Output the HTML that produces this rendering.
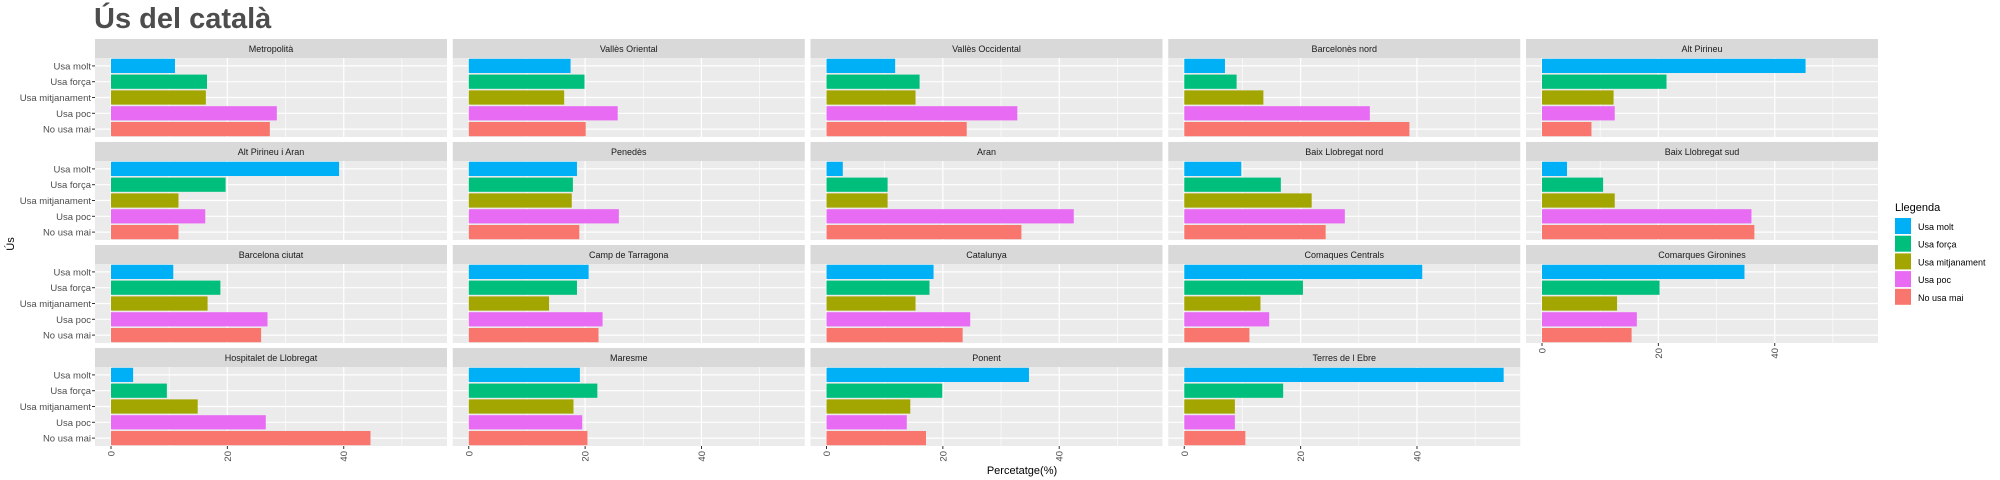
<!DOCTYPE html>
<html><head><meta charset="utf-8"><style>
html,body{margin:0;padding:0;background:#fff;}
svg{display:block;font-family:"Liberation Sans",Arial,sans-serif;}
</style></head><body>
<svg id="chart" width="2000" height="480" viewBox="0 0 2000 480" xmlns="http://www.w3.org/2000/svg">
<text x="94" y="28" font-size="29" font-weight="bold" fill="#4d4d4d">Ús del català</text>
<text transform="translate(14,244) rotate(-90)" text-anchor="middle" font-size="11" fill="#000">Ús</text>
<text x="1022" y="474" text-anchor="middle" font-size="11" fill="#000">Percetatge(%)</text>
<g id="panels"></g>
<g id="legend"></g>
</svg>
<script>
const categories = ["Usa molt","Usa força","Usa mitjanament","Usa poc","No usa mai"];
const colors = ["#00B0F6","#00BF7D","#A3A500","#E76BF3","#F8766D"];
const regions = ["Metropolità","Vallès Oriental","Vallès Occidental","Barcelonès nord","Alt Pirineu",
"Alt Pirineu i Aran","Penedès","Aran","Baix Llobregat nord","Baix Llobregat sud",
"Barcelona ciutat","Camp de Tarragona","Catalunya","Comaques Centrals","Comarques Gironines",
"Hospitalet de Llobregat","Maresme","Ponent","Terres de l Ebre"];
const usaMolt = [11.0,17.5,11.8,7.0,45.3, 39.2,18.6,2.8,9.8,4.3, 10.7,20.6,18.4,40.9,34.8, 3.8,19.1,34.8,54.9];
const usaForca = [16.5,19.9,16.0,9.0,21.4, 19.7,17.9,10.5,16.6,10.5, 18.8,18.6,17.7,20.4,20.2, 9.6,22.1,19.9,17.0];
const usaMitj = [16.3,16.4,15.3,13.6,12.3, 11.6,17.7,10.5,21.9,12.5, 16.6,13.8,15.3,13.1,12.9, 14.9,18.0,14.4,8.7];
const usaPoc = [28.5,25.6,32.8,31.9,12.5, 16.2,25.8,42.5,27.6,36.0, 26.9,23.0,24.7,14.6,16.3, 26.6,19.5,13.8,8.7];
const noUsaMai = [27.3,20.1,24.1,38.7,8.5, 11.6,19.0,33.5,24.3,36.5, 25.8,22.3,23.4,11.2,15.4, 44.6,20.4,17.1,10.5];
const xTicks = [0,20,40];
const xMinor = [10,30,50];
const series = [usaMolt,usaForca,usaMitj,usaPoc,noUsaMai];

const NS="http://www.w3.org/2000/svg";
function mk(tag,attrs,parent){const e=document.createElementNS(NS,tag);for(const k in attrs)e.setAttribute(k,attrs[k]);parent.appendChild(e);return e;}
const root=document.getElementById('panels');
const PW=352, PH=79, SH=19, X0=95, DX=357.75, Y0=39, DY=103;
const xmin=-2.75, xmax=57.75;
for(let i=0;i<regions.length;i++){
  const col=i%5,row=Math.floor(i/5);
  const px=X0+col*DX, sy=Y0+row*DY, py=sy+SH;
  const xs=v=>px+(v-xmin)/(xmax-xmin)*PW;
  const ys=j=>py+(j+0.5)*PH/5;
  const g=mk('g',{},root);
  
  
  const strip=mk('rect',{x:px,y:sy,width:PW,height:SH,fill:'#D9D9D9'},g);
  
  
  const st=mk('text',{x:px+PW/2,y:sy+13,'text-anchor':'middle','font-size':'9','fill':'#1a1a1a'},g);
  st.textContent=regions[i];
  
  
  const bg=mk('rect',{x:px,y:py,width:PW,height:PH,fill:'#EBEBEB'},g);
  
  
  xMinor.forEach(v=>mk('line',{x1:xs(v),x2:xs(v),y1:py,y2:py+PH,stroke:'#fff','stroke-width':0.6},g));
  xTicks.forEach(v=>mk('line',{x1:xs(v),x2:xs(v),y1:py,y2:py+PH,stroke:'#fff','stroke-width':1.2},g));
  for(let j=0;j<5;j++) mk('line',{x1:px,x2:px+PW,y1:ys(j),y2:ys(j),stroke:'#fff','stroke-width':1.2},g);
  const bh=PH/5*0.9;
  for(let j=0;j<5;j++){
    const v=series[j][i];
    const b=mk('rect',{x:xs(0),y:ys(j)-bh/2,width:xs(v)-xs(0),height:bh,fill:colors[j]},g);
    
    
  }
  if(col===0){
    for(let j=0;j<5;j++){
      mk('line',{x1:px-3,x2:px,y1:ys(j),y2:ys(j),stroke:'#333','stroke-width':1},g);
      const t=mk('text',{x:px-4,y:ys(j)+3.5,'text-anchor':'end','font-size':'9.5',fill:'#4d4d4d'},g);
      t.textContent=categories[j];
      
      
    }
  }
  const isBottom = row===3 || (row===2 && col===4);
  if(isBottom){
    xTicks.forEach(v=>{
      mk('line',{x1:xs(v),x2:xs(v),y1:py+PH,y2:py+PH+3,stroke:'#333','stroke-width':1},g);
      const t=mk('text',{transform:`translate(${xs(v)+3.5},${py+PH+5}) rotate(-90)`,'text-anchor':'end','font-size':'9.5',fill:'#4d4d4d'},g);
      t.textContent=String(v);
      
      
    });
  }
}
const lg=document.getElementById('legend');
const lt=mk('text',{x:1895,y:211,'font-size':'11',fill:'#000'},lg);
lt.textContent='Llegenda';


for(let j=0;j<5;j++){
  const y=218+j*17.7;
  const r=mk('rect',{x:1895,y:y,width:16,height:16,fill:colors[j]},lg);
  
  
  const t=mk('text',{x:1918,y:y+12,'font-size':'9',fill:'#000'},lg);
  t.textContent=categories[j];
  
  
}
</script>
</body></html>
